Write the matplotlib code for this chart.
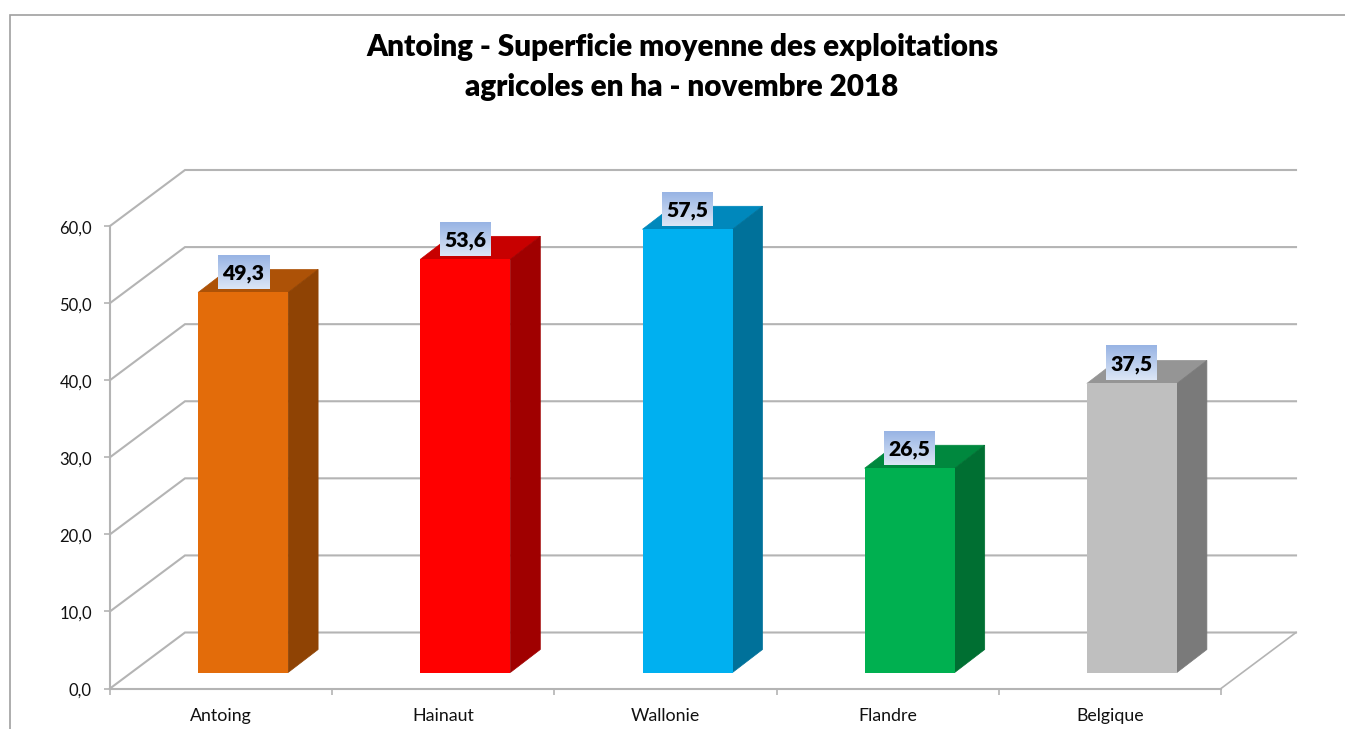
#!/usr/bin/env python3
# -*- coding: utf-8 -*-
"""
Antoing - average farm size, drawn as a pseudo 3D column chart.
"""

import numpy as np
import matplotlib
matplotlib.use('Agg')
import matplotlib.pyplot as plt
from matplotlib.lines import Line2D
from matplotlib.transforms import ScaledTranslation

plt.rcParams['font.family'] = ['Lato', 'DejaVu Sans']

# DATA
CATEGORIES = ['Antoing', 'Hainaut', 'Wallonie', 'Flandre', 'Belgique']
VALUES = [49.3, 53.6, 57.5, 26.5, 37.5]
VALUE_LABELS = ['49,3', '53,6', '57,5', '26,5', '37,5']
Y_TICKS = [0, 10, 20, 30, 40, 50, 60]
Y_TICK_LABELS = ['0,0', '10,0', '20,0', '30,0', '40,0', '50,0', '60,0']
TITLE = 'Antoing - Superficie moyenne des exploitations\nagricoles en ha - novembre 2018'

# COLOURS
FRONT_COLOURS = ['#E36C0A', '#FF0000', '#00B0F0', '#00B050', '#BFBFBF']
TOP_COLOURS = ['#AD5207', '#C80000', '#0088BC', '#00883E', '#959595']
SIDE_COLOURS = ['#8F4304', '#A00000', '#00719A', '#006F32', '#7A7A7A']
GRID_COLOUR = '#B4B4B4'
FRAME_COLOUR = '#A0A0A0'

# GEOMETRY (pixels of the figure, converted to data units below)
FIG_W, FIG_H = 1345, 729
AX_LEFT, AX_RIGHT = 110, 1221
AX_BOTTOM, AX_TOP = 688.5, 226
PX_X = (AX_RIGHT - AX_LEFT) / len(CATEGORIES)
PX_Y = (AX_BOTTOM - AX_TOP) / Y_TICKS[-1]

WALL_DX, WALL_DY = 75 / PX_X, 56 / PX_Y
BAR_WIDTH = 90 / PX_X
BAR_DX, BAR_DY = 30 / PX_X, 23 / PX_Y
BAR_BASE = 16 / PX_Y
BAR_SHIFT = 22 / PX_X
BOX_W, BOX_H = 51 / PX_X, 34 / PX_Y
BOX_LIFT = 20.5 / PX_Y


def draw_walls(ax):
    """Grid lines running up the side wall and along the back wall."""
    for tick in Y_TICKS:
        ax.plot([0, WALL_DX, len(CATEGORIES) + WALL_DX],
                [tick, tick + WALL_DY, tick + WALL_DY],
                color=GRID_COLOUR, lw=1.5, clip_on=False, zorder=1,
                solid_joinstyle='miter')
    ax.plot([len(CATEGORIES), len(CATEGORIES) + WALL_DX], [0, WALL_DY],
            color=GRID_COLOUR, lw=1.2, clip_on=False, zorder=1)


def draw_bar(ax, x, value, front, top, side):
    """One column: front face with the top and side faces behind it."""
    left = x - BAR_WIDTH / 2
    right = x + BAR_WIDTH / 2
    high = BAR_BASE + value
    ax.fill([left, left + BAR_DX, right + BAR_DX, right],
            [high, high + BAR_DY, high + BAR_DY, high],
            color=top, lw=0.5, clip_on=False, zorder=3)
    ax.fill([right, right + BAR_DX, right + BAR_DX, right],
            [BAR_BASE, BAR_BASE + BAR_DY, high + BAR_DY, high],
            color=side, lw=0.5, clip_on=False, zorder=3)
    ax.bar(x, value, BAR_WIDTH, bottom=BAR_BASE, color=front,
           clip_on=False, zorder=4)


def draw_label(ax, x, value, label):
    """Value label on a light blue gradient box."""
    middle = BAR_BASE + value + BOX_LIFT
    gradient = np.linspace(0, 1, 64).reshape(-1, 1)
    cmap = matplotlib.colors.LinearSegmentedColormap.from_list(
        'box', ['#DCE6F6', '#98B4E4'])
    ax.imshow(gradient, cmap=cmap, origin='lower', aspect='auto', zorder=5,
              extent=(x - BOX_W / 2, x + BOX_W / 2,
                      middle - BOX_H / 2, middle + BOX_H / 2),
              clip_on=False)
    ax.text(x, middle, label, ha='center', va='center_baseline', fontsize=15.2,
            fontweight='heavy', color='black', zorder=6, clip_on=False)


def main():
    fig = plt.figure(figsize=(FIG_W / 100, FIG_H / 100), dpi=100)
    ax = fig.add_axes([AX_LEFT / FIG_W, 1 - AX_BOTTOM / FIG_H,
                       (AX_RIGHT - AX_LEFT) / FIG_W,
                       (AX_BOTTOM - AX_TOP) / FIG_H])
    ax.patch.set_alpha(0)

    centres = np.arange(len(CATEGORIES)) + 0.5
    draw_walls(ax)
    for i, value in enumerate(VALUES):
        bar_x = centres[i] + BAR_SHIFT
        draw_bar(ax, bar_x, value, FRONT_COLOURS[i],
                 TOP_COLOURS[i], SIDE_COLOURS[i])
        draw_label(ax, bar_x, value, VALUE_LABELS[i])

    ax.set_xlim(0, len(CATEGORIES))
    ax.set_ylim(0, Y_TICKS[-1])

    ax.spines['top'].set_visible(False)
    ax.spines['right'].set_visible(False)
    for side in ['left', 'bottom']:
        ax.spines[side].set_color(GRID_COLOUR)
        ax.spines[side].set_linewidth(1.5)

    ax.set_yticks(Y_TICKS, Y_TICK_LABELS)
    ax.set_xticks(np.arange(len(CATEGORIES) + 1), [''] * (len(CATEGORIES) + 1))
    ax.set_xticks(centres, CATEGORIES, minor=True)
    ax.tick_params(axis='both', which='major', length=4, width=1.2,
                   color=GRID_COLOUR)
    ax.tick_params(axis='y', labelsize=12, pad=9, labelcolor='#111111')
    ax.tick_params(axis='x', which='minor', length=0, labelsize=12.8, pad=14,
                   labelcolor='#111111')

    # tick labels sit a little lower in the reference
    nudge = ScaledTranslation(0, -1.0 / 100, fig.dpi_scale_trans)
    for label in ax.get_yticklabels():
        label.set_transform(label.get_transform() + nudge)

    fig.text(682 / FIG_W, 1 - 67 / FIG_H, TITLE, ha='center', va='center',
             fontsize=21.3, fontweight='heavy', color='black', linespacing=1.49)

    # chart frame, cut off by the right and bottom edges of the picture
    fig.add_artist(Line2D([10 / FIG_W, 10 / FIG_W, 1],
                          [0, 1 - 15 / FIG_H, 1 - 15 / FIG_H],
                          color=FRAME_COLOUR, lw=1.2,
                          solid_joinstyle='miter'))

    fig.savefig('out.png', dpi=100)


main()
